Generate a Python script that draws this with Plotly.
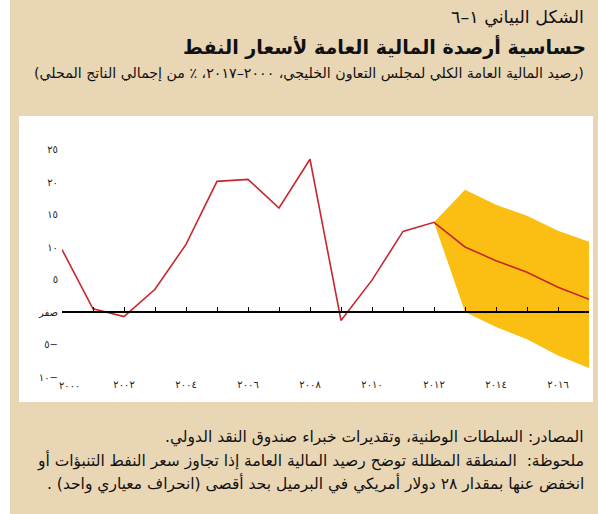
import plotly.graph_objects as go

# GCC overall fiscal balance, percent of GDP
years = list(range(2000, 2018))
balance = [9.6, 0.5, -0.7, 3.5, 10.4, 20.1, 20.4, 16.0, 23.5, -1.3,
           4.9, 12.4, 13.8, 10.0, 7.9, 6.1, 3.8, 1.95]

# Oil-price sensitivity band (+/- one standard deviation), 2012-2017
band_years = [2012, 2013, 2014, 2015, 2016, 2017]
band_upper = [13.8, 18.8, 16.5, 14.8, 12.5, 10.8]
band_lower = [13.8, 0.0, -2.3, -4.2, -6.7, -8.6]

# the first year label sits to the right of its tick, clear of the y labels
first_year, first_year_text = 2000, "٢٠٠٠"
x_tick_years = [2002, 2004, 2006, 2008, 2010, 2012, 2014, 2016]
x_tick_text = ["٢٠٠٢", "٢٠٠٤", "٢٠٠٦", "٢٠٠٨", "٢٠١٠", "٢٠١٢", "٢٠١٤", "٢٠١٦"]
y_tick_vals = [-10, -5, 0, 5, 10, 15, 20, 25]
y_tick_text = ["−١٠", "−٥", "صفر", "٥", "١٠", "١٥", "٢٠", "٢٥"]

title_label = "الشكل البياني ١–٦"
title_main = "حساسية أرصدة المالية العامة لأسعار النفط"
title_sub = "(رصيد المالية العامة الكلي لمجلس التعاون الخليجي، ٢٠٠٠–٢٠١٧، ٪ من إجمالي الناتج المحلي)"
note_lines = [
    "المصادر: السلطات الوطنية، وتقديرات خبراء صندوق النقد الدولي.",
    "ملحوظة:  المنطقة المظللة توضح رصيد المالية العامة إذا تجاوز سعر النفط التنبؤات أو",
    "انخفض عنها بمقدار ٢٨ دولار أمريكي في البرميل بحد أقصى (انحراف معياري واحد) .",
]

RLM = "\u200f"


def rtl(s):
    return RLM + s + RLM


W, H = 598, 514
ML, MR, MT, MB = 62, 9, 143, 137
Y_MIN, Y_MAX = -10, 26
PW, PH = W - ML - MR, H - MT - MB

FONT = "DejaVu Sans"
BEIGE = "#E9D6B5"
RED = "#C8262E"
GOLD = "#FBBF14"
TICK_FONT = dict(family=FONT, size=10, color="#222")


def px_x(p):
    return (p - ML) / PW


def px_y(p):
    return (H - MB - p) / PH


fig = go.Figure()

# shaded band (drawn first, under the balance line)
fig.add_trace(go.Scatter(x=band_years, y=band_lower, mode="lines",
                         line=dict(width=0, color=GOLD), hoverinfo="skip",
                         showlegend=False, xaxis="x", yaxis="y"))
fig.add_trace(go.Scatter(x=band_years, y=band_upper, mode="lines",
                         line=dict(width=0, color=GOLD), fill="tonexty",
                         fillcolor=GOLD, hoverinfo="skip",
                         showlegend=False, xaxis="x", yaxis="y"))

# fiscal balance line, on the overlay axis that sits at zero
fig.add_trace(go.Scatter(x=years, y=balance, mode="lines",
                         line=dict(color=RED, width=1.6),
                         showlegend=False, xaxis="x2", yaxis="y"))

shapes = [
    dict(type="rect", xref="paper", yref="paper",
         x0=px_x(10), x1=px_x(W), y0=px_y(H), y1=px_y(0),
         fillcolor=BEIGE, line=dict(width=0), layer="below"),
    dict(type="rect", xref="paper", yref="paper",
         x0=px_x(19), x1=px_x(593), y0=px_y(402), y1=px_y(116),
         fillcolor="white", line=dict(width=0), layer="below"),
]

annotations = [
    dict(text=rtl(title_label), x=px_x(586), y=px_y(18), xref="paper", yref="paper",
         xanchor="right", yanchor="middle", showarrow=False,
         font=dict(family=FONT, size=17.5, color="#111")),
    dict(text="<b>" + rtl(title_main) + "</b>", x=px_x(588), y=px_y(47), xref="paper",
         yref="paper", xanchor="right", yanchor="middle", showarrow=False,
         font=dict(family=FONT, size=19.1, color="#111")),
    dict(text=rtl(title_sub), x=px_x(586), y=px_y(74), xref="paper", yref="paper",
         xanchor="right", yanchor="middle", showarrow=False,
         font=dict(family=FONT, size=14.2, color="#111")),
    # first year label, placed on the x scale just right of its tick
    dict(text=first_year_text, x=first_year, xref="x", y=0, yref="paper",
         xanchor="left", yanchor="top", xshift=-5, yshift=-1, showarrow=False,
         font=TICK_FONT),
]
for i, line in enumerate(note_lines):
    annotations.append(dict(text=rtl(line), x=px_x(586), y=px_y(437 + 23 * i),
                            xref="paper", yref="paper", xanchor="right",
                            yanchor="middle", showarrow=False,
                            font=dict(family=FONT, size=15.5, color="#111")))

fig.update_layout(
    width=W, height=H,
    margin=dict(l=ML, r=MR, t=MT, b=MB, pad=0),
    paper_bgcolor="white",
    plot_bgcolor="rgba(0,0,0,0)",
    shapes=shapes,
    annotations=annotations,
    xaxis=dict(range=[2000, 2017], tickmode="array", tickvals=x_tick_years,
               ticktext=x_tick_text, showgrid=False, zeroline=False,
               showline=False, ticks="", tickfont=TICK_FONT),
    xaxis2=dict(range=[2000, 2017], overlaying="x", anchor="free",
                position=(0 - Y_MIN) / (Y_MAX - Y_MIN), side="bottom",
                showline=True, linecolor="black", linewidth=1.5,
                ticks="inside", ticklen=4, tickwidth=1.2, tickcolor="black",
                tick0=2000, dtick=1, showticklabels=False,
                showgrid=False, zeroline=False),
    yaxis=dict(range=[Y_MIN, Y_MAX], tickmode="array", tickvals=y_tick_vals,
               ticktext=[rtl(t) for t in y_tick_text], showgrid=False,
               zeroline=False, showline=False, ticks="", ticklabelstandoff=3,
               tickfont=TICK_FONT),
)

fig.write_html("out.html")
